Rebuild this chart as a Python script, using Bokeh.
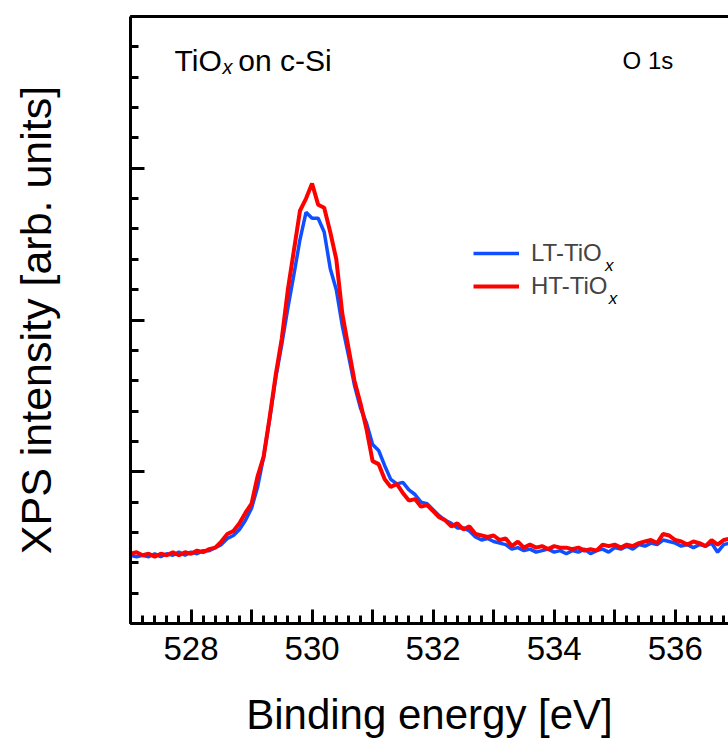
from bokeh.plotting import figure
from bokeh.models import (Range1d, LinearAxis, SingleIntervalTicker, CustomJSTickFormatter,
                          Label, Legend, LegendItem)
from bokeh.embed import file_html
from bokeh.resources import INLINE

# Binding energy grid (eV)
energy = [527.0, 527.1, 527.2, 527.3, 527.4, 527.5, 527.6, 527.7, 527.8, 527.9,
          528.0, 528.1, 528.2, 528.3, 528.4, 528.5, 528.6, 528.7, 528.8, 528.9,
          529.0, 529.1, 529.2, 529.3, 529.4, 529.5, 529.6, 529.7, 529.8, 529.9,
          530.0, 530.1, 530.2, 530.3, 530.4, 530.5, 530.6, 530.7, 530.8, 530.9,
          531.0, 531.1, 531.2, 531.3, 531.4, 531.5, 531.6, 531.7, 531.8, 531.9,
          532.0, 532.1, 532.2, 532.3, 532.4, 532.5, 532.6, 532.7, 532.8, 532.9,
          533.0, 533.1, 533.2, 533.3, 533.4, 533.5, 533.6, 533.7, 533.8, 533.9,
          534.0, 534.1, 534.2, 534.3, 534.4, 534.5, 534.6, 534.7, 534.8, 534.9,
          535.0, 535.1, 535.2, 535.3, 535.4, 535.5, 535.6, 535.7, 535.8, 535.9,
          536.0, 536.1, 536.2, 536.3, 536.4, 536.5, 536.6, 536.7, 536.8, 536.9]

# LT-TiOx O 1s intensity (arb. units)
lt_tiox = [0.45, 0.44, 0.45, 0.44, 0.46, 0.44, 0.46, 0.45, 0.47, 0.45,
           0.47, 0.46, 0.48, 0.48, 0.50, 0.52, 0.56, 0.58, 0.62, 0.68,
           0.76, 0.90, 1.10, 1.35, 1.62, 1.84, 2.08, 2.30, 2.53, 2.71,
           2.67, 2.67, 2.58, 2.34, 2.20, 1.96, 1.77, 1.57, 1.42, 1.32,
           1.18, 1.14, 1.04, 0.95, 0.92, 0.93, 0.88, 0.85, 0.80, 0.79,
           0.75, 0.71, 0.68, 0.66, 0.63, 0.63, 0.61, 0.57, 0.55, 0.56,
           0.54, 0.53, 0.52, 0.49, 0.50, 0.48, 0.49, 0.47, 0.48, 0.49,
           0.47, 0.48, 0.46, 0.48, 0.47, 0.49, 0.46, 0.48, 0.49, 0.47,
           0.50, 0.49, 0.51, 0.49, 0.52, 0.51, 0.53, 0.52, 0.55, 0.54,
           0.53, 0.51, 0.52, 0.50, 0.52, 0.51, 0.53, 0.47, 0.52, 0.53]

# HT-TiOx O 1s intensity (arb. units)
ht_tiox = [0.46, 0.47, 0.45, 0.46, 0.44, 0.46, 0.45, 0.47, 0.45, 0.47,
           0.46, 0.48, 0.47, 0.49, 0.50, 0.54, 0.59, 0.61, 0.66, 0.73,
           0.79, 0.97, 1.10, 1.36, 1.64, 1.88, 2.20, 2.46, 2.72, 2.80,
           2.90, 2.76, 2.74, 2.58, 2.40, 2.04, 1.82, 1.60, 1.45, 1.28,
           1.07, 1.05, 0.95, 0.90, 0.92, 0.86, 0.81, 0.82, 0.77, 0.78,
           0.74, 0.70, 0.68, 0.64, 0.66, 0.62, 0.64, 0.59, 0.58, 0.57,
           0.58, 0.55, 0.56, 0.51, 0.54, 0.50, 0.52, 0.50, 0.51, 0.49,
           0.51, 0.50, 0.50, 0.49, 0.50, 0.48, 0.49, 0.48, 0.52, 0.51,
           0.52, 0.50, 0.52, 0.51, 0.53, 0.54, 0.55, 0.53, 0.59, 0.58,
           0.55, 0.54, 0.52, 0.54, 0.53, 0.51, 0.55, 0.52, 0.55, 0.56]

series_names = ["LT-TiO", "HT-TiO"]
series_colors = ["#0F4FFF", "#FF0000"]
x_title = "Binding energy [eV]"
y_title = "XPS intensity [arb. units]"

FONT = "Liberation Sans"

p = figure(width=728, height=745, output_backend="svg", toolbar_location=None,
           x_range=Range1d(527.0, 536.88), y_range=Range1d(0, 4),
           min_border_left=130, min_border_right=0, min_border_top=16, min_border_bottom=122,
           x_axis_label=x_title, y_axis_label=y_title)
p.outline_line_color = None
p.grid.visible = False
p.background_fill_color = "white"
p.border_fill_color = "white"

r_lt = p.line(energy, lt_tiox, line_color=series_colors[0], line_width=3.5)
r_ht = p.line(energy, ht_tiox, line_color=series_colors[1], line_width=4)

# x axis
xa = p.xaxis[0]
xa.ticker = SingleIntervalTicker(interval=1, num_minor_ticks=5)
xa.formatter = CustomJSTickFormatter(code="return (Math.round(tick) % 2 == 0) ? Math.round(tick).toString() : '';")
xa.major_tick_in = 14
xa.major_tick_out = 0
xa.minor_tick_in = 8
xa.minor_tick_out = 0
xa.axis_line_width = 3
xa.major_tick_line_width = 3
xa.minor_tick_line_width = 3
xa.major_label_text_font = FONT
xa.major_label_text_font_size = "33px"
xa.major_label_text_color = "black"
xa.major_label_standoff = 13
xa.axis_label_text_font = FONT
xa.axis_label_text_font_size = "42px"
xa.axis_label_text_font_style = "normal"
xa.axis_label_text_color = "black"
xa.axis_label_standoff = 28

# y axis
ya = p.yaxis[0]
ya.ticker = SingleIntervalTicker(interval=1, num_minor_ticks=5)
ya.formatter = CustomJSTickFormatter(code="return '';")
ya.major_tick_in = 14
ya.major_tick_out = 0
ya.minor_tick_in = 8
ya.minor_tick_out = 0
ya.axis_line_width = 3
ya.major_tick_line_width = 3
ya.minor_tick_line_width = 3
ya.major_label_text_font_size = "1px"
ya.axis_label_text_font = FONT
ya.axis_label_text_font_size = "43px"
ya.axis_label_text_font_style = "normal"
ya.axis_label_text_color = "black"
ya.axis_label_standoff = 71

# top border
top = LinearAxis(ticker=SingleIntervalTicker(interval=1),
                 formatter=CustomJSTickFormatter(code="return '';"),
                 major_tick_in=0, major_tick_out=0, minor_tick_in=0, minor_tick_out=0,
                 major_label_text_font_size="1px", axis_line_width=3)
p.add_layout(top, "above")

# legend
legend = Legend(items=[LegendItem(label=series_names[0], renderers=[r_lt]),
                       LegendItem(label=series_names[1], renderers=[r_ht])],
                location=(343, 323), orientation="vertical",
                label_text_font=FONT, label_text_font_size="24px",
                glyph_width=46, glyph_height=20, label_standoff=12,
                padding=0, margin=0, spacing=5,
                border_line_color=None, background_fill_alpha=0)
p.add_layout(legend)

def lab(x, y, text, size, style="normal"):
    p.add_layout(Label(x=x, y=y, text=text, text_font=FONT, text_font_size=size,
                       text_font_style=style, text_baseline="alphabetic",
                       text_align="left", text_color="black"))

# legend subscripts
lab(534.84, 2.36, "x", "17px", "italic")
lab(534.90, 2.142, "x", "17px", "italic")

# annotations
lab(527.727, 3.71, "TiO", "30px")
lab(528.52, 3.67, "x", "20px", "italic")
lab(528.78, 3.71, "on c-Si", "30px")
lab(535.13, 3.71, "O 1s", "24px")

open("out.html", "w").write(file_html(p, INLINE))
